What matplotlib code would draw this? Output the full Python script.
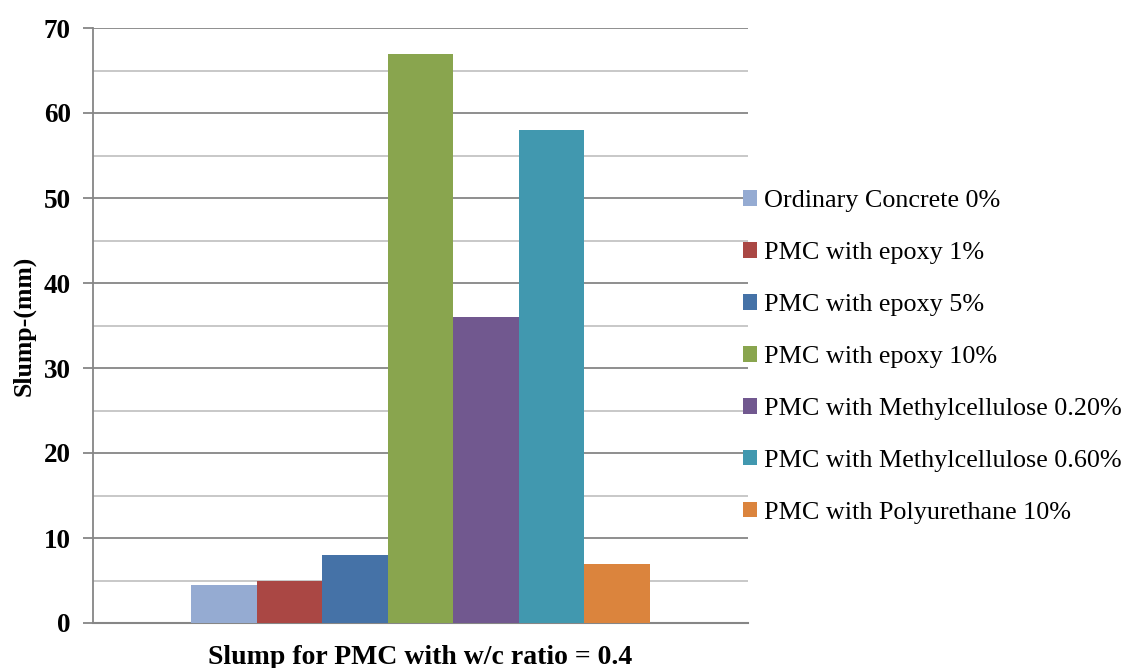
import numpy as np
import matplotlib.pyplot as plt
from matplotlib.ticker import MultipleLocator

plt.rcParams['font.family'] = ['Liberation Serif', 'DejaVu Serif']

# slump values per mix (mm)
mixes = ["Ordinary Concrete 0%", "PMC with epoxy 1%", "PMC with epoxy 5%",
         "PMC with epoxy 10%", "PMC with Methylcellulose 0.20%",
         "PMC with Methylcellulose 0.60%", "PMC with Polyurethane 10%"]
slump = [4.5, 5, 8, 67, 36, 58, 7]
colors = ["#95abd2", "#aa4744", "#4572a7", "#89a54e", "#71588f", "#4198af", "#db843d"]

fig = plt.figure(figsize=(11.36, 6.68), dpi=100)
ax = fig.add_axes([93/1136, 1 - 623/668, 655/1136, 595/668])

n = len(slump)
pos = np.arange(n) - (n - 1) / 2
for p, v, c, m in zip(pos, slump, colors, mixes):
    ax.bar(p, v, width=1.0, color=c, label=m, zorder=3)

ax.set_xlim(-5, 5)
ax.set_ylim(0, 70)
ax.yaxis.set_major_locator(MultipleLocator(10))
ax.yaxis.set_minor_locator(MultipleLocator(5))
ax.set_xticks([])
ax.grid(axis='y', which='major', color='#868686', lw=1.3, zorder=0)
ax.grid(axis='y', which='minor', color='#c4c4c4', lw=1.3, zorder=0)
ax.set_axisbelow(True)

for s in ['top', 'right']:
    ax.spines[s].set_visible(False)
ax.spines['left'].set_color('#868686')
ax.spines['left'].set_linewidth(1.3)
ax.spines['bottom'].set_color('#868686')
ax.spines['bottom'].set_linewidth(1.5)
ax.tick_params(axis='y', which='major', length=7, width=1.3, color='#868686',
               labelsize=19.5, pad=9)
ax.tick_params(axis='y', which='minor', length=0)
for t in ax.get_yticklabels():
    t.set_fontweight('bold')

ax.set_ylabel("Slump-(mm)", fontsize=18.5, fontweight='bold', labelpad=6)
ax.set_xlabel("Slump for PMC with w/c ratio = 0.4", fontsize=20, fontweight='bold',
              labelpad=16)

fig.legend(loc='center left', bbox_to_anchor=(743/1136, 1 - 357/668),
           frameon=False, fontsize=18.8, handlelength=0.55, handleheight=0.55,
           handletextpad=0.27, labelspacing=1.14, borderpad=0, borderaxespad=0)

fig.savefig("out.png", dpi=100)
